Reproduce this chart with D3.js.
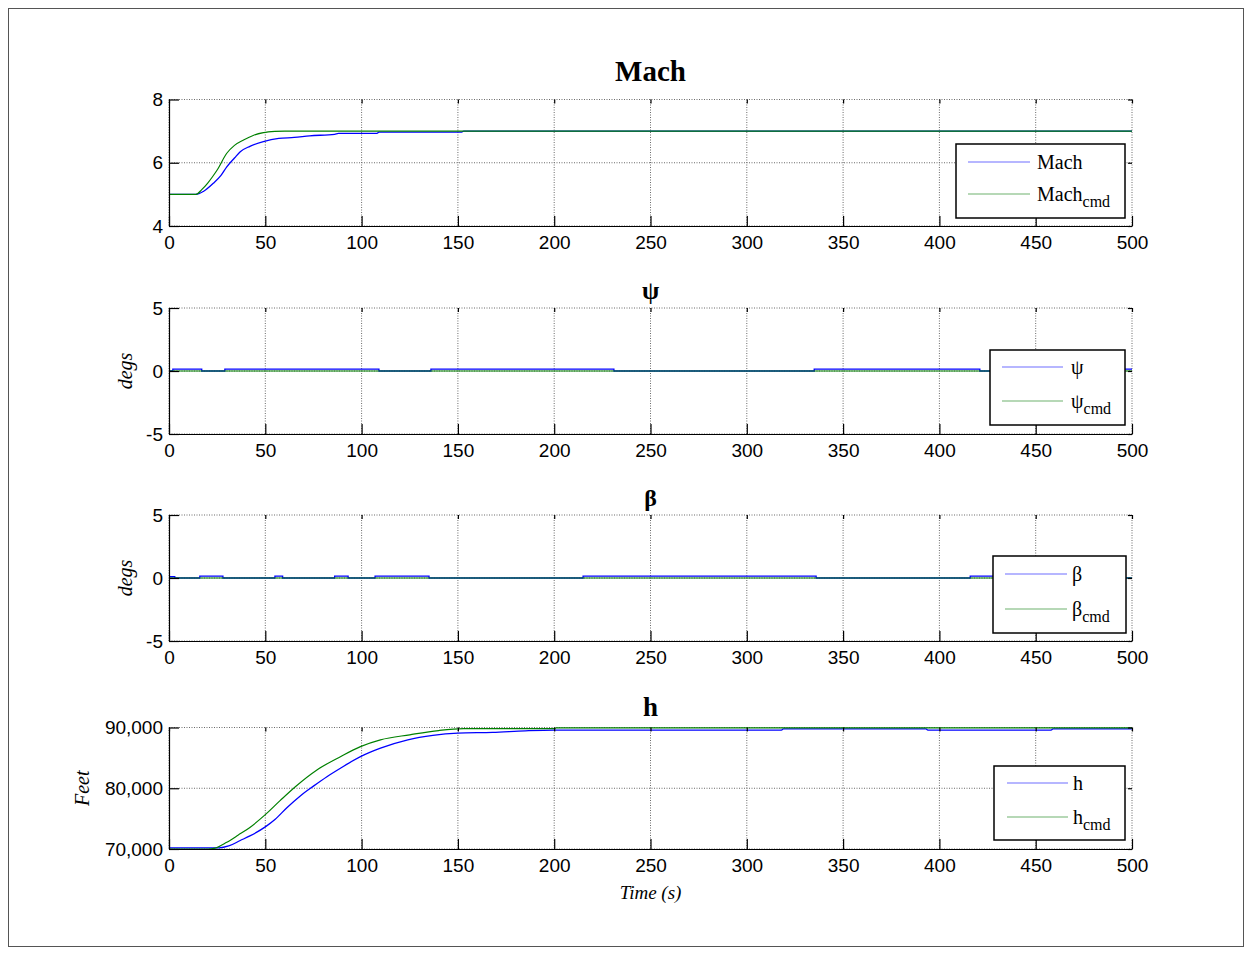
<!DOCTYPE html>
<html>
<head>
<meta charset="utf-8">
<script src="https://cdn.jsdelivr.net/npm/d3@7"></script>
<style>
  html, body { margin: 0; padding: 0; background: #fff; }
  svg { display: block; }
  .tick text { font-family: "Liberation Sans", Arial, sans-serif; font-size: 19px; fill: #000; }
</style>
</head>
<body>
<svg id="chart" width="1252" height="955"></svg>
<script>
// ---- data ---------------------------------------------------------------
const timeTicks = [0, 50, 100, 150, 200, 250, 300, 350, 400, 450, 500];

// Mach number: response and command  [time s, Mach]
const machResp = [[0,5],[14,5],[18,5.1],[23,5.35],[27,5.6],[30,5.87],[34,6.15],[37,6.35],[42,6.52],[49,6.67],[57,6.77],[65,6.8],[73,6.85],[86,6.9],[88,6.93],[108,6.93],[109,6.97],[152,6.97],[153,7.0],[500,7.0]];
const machCmd  = [[0,5],[14,5],[17,5.15],[20,5.35],[22.5,5.55],[25,5.77],[30,6.3],[34,6.55],[38.7,6.72],[44,6.87],[49,6.95],[55,6.99],[60,7.0],[500,7.0]];
const machTicks = [4, 6, 8];

// heading angle psi (deg), step-wise
const psiResp = [[0,0],[2,0.15],[17,0],[29,0.15],[109,0],[136,0.15],[231,0],[335,0.15],[421,0],[478,0.15],[500,0.15]];
const psiCmd  = [[0,0],[500,0]];
const degTicks = [-5, 0, 5];

// sideslip beta (deg), step-wise
const betaResp = [[0,0.1],[3,0],[16,0.15],[28,0],[55,0.15],[59,0],[86,0.15],[93,0],[107,0.15],[135,0],[215,0.15],[336,0],[416,0.15],[470,0],[500,0]];
const betaCmd  = [[0,0],[500,0]];

// altitude h (ft)
const hResp = [[0,70200],[26,70200],[31,70500],[37,71400],[42,72150],[50,73640],[55,74850],[61.2,76800],[68,78700],[75,80350],[82,81900],[89,83290],[99.4,85200],[109.8,86600],[124,87970],[137,88700],[150,89070],[168,89200],[185,89450],[200,89570],[318,89570],[319,89780],[393,89780],[394,89570],[458,89570],[459,89780],[500,89780]];
const hCmd  = [[0,70000],[20,70000],[24,70150],[30,71100],[36,72300],[42,73550],[50,75650],[57.8,78000],[65.6,80250],[76.8,83010],[89,85200],[99.4,86860],[109.8,87970],[125,88800],[140,89500],[153,89800],[200,89800],[201,89950],[500,89950]];
const hTicks = [70000, 80000, 90000];

// ---- layout -------------------------------------------------------------
const W = 1252, H = 955;
const X0 = 169, X1 = 1132;
const BLUE = "#0000ff", GREEN = "#008000";
const SERIF = "'Liberation Serif', 'Times New Roman', serif";

// integer labels with a plain hyphen for negatives
const intFmt = d => String(d);
const thouFmt = d => d3.format(",")(d).replace("\u2212", "-");

const svg = d3.select("#chart");

// figure frame
svg.append("rect")
  .attr("x", 8.5).attr("y", 8.5).attr("width", W - 17).attr("height", H - 17)
  .attr("fill", "#fff").attr("stroke", "#555").attr("stroke-width", 1);

const x = d3.scaleLinear().domain([0, 500]).range([X0, X1]);

const panels = [
  { id: "mach", top: 99.5, bottom: 226, domain: [4, 8], ticks: machTicks, fmt: intFmt,
    title: "Mach", titleSize: 29, titleY: 81, ylabel: null,
    resp: machResp, cmd: machCmd, curve: d3.curveMonotoneX,
    legend: { x: 956, y: 144, w: 169, h: 74, lx: 968, lw: 62, tx: 1037, y1: 162, y2: 194,
              name: "Mach" } },
  { id: "psi", top: 308, bottom: 434, domain: [-5, 5], ticks: degTicks, fmt: intFmt,
    title: "ψ", titleSize: 25, titleY: 299, ylabel: "degs", ylabelX: 132,
    resp: psiResp, cmd: psiCmd, curve: d3.curveStepAfter,
    legend: { x: 990, y: 350, w: 135, h: 75, lx: 1002, lw: 61, tx: 1071, y1: 367, y2: 401,
              name: "ψ" } },
  { id: "beta", top: 515, bottom: 641, domain: [-5, 5], ticks: degTicks, fmt: intFmt,
    title: "β", titleSize: 24, titleY: 506, ylabel: "degs", ylabelX: 132,
    resp: betaResp, cmd: betaCmd, curve: d3.curveStepAfter,
    legend: { x: 993, y: 556, w: 133, h: 77, lx: 1005, lw: 62, tx: 1072, y1: 574, y2: 609,
              name: "β" } },
  { id: "h", top: 727.5, bottom: 849, domain: [70000, 90000], ticks: hTicks, fmt: thouFmt,
    title: "h", titleSize: 27, titleY: 716, ylabel: "Feet", ylabelX: 89,
    resp: hResp, cmd: hCmd, curve: d3.curveMonotoneX,
    legend: { x: 994, y: 766, w: 131, h: 74, lx: 1007, lw: 61, tx: 1073, y1: 783, y2: 817,
              name: "h" } }
];

panels.forEach(p => {
  const y = d3.scaleLinear().domain(p.domain).range([p.bottom, p.top]);
  const g = svg.append("g").attr("class", "panel-" + p.id);

  // dotted grid
  const grid = g.append("g").attr("stroke", "#6a6a6a").attr("stroke-width", 1)
    .attr("stroke-dasharray", "1,1.5").attr("fill", "none");
  timeTicks.forEach(t => grid.append("line")
    .attr("x1", x(t)).attr("x2", x(t)).attr("y1", p.top).attr("y2", p.bottom));
  p.ticks.forEach(v => grid.append("line")
    .attr("x1", X0).attr("x2", X1).attr("y1", y(v)).attr("y2", y(v)));

  // data
  const clipId = "clip-" + p.id;
  svg.append("clipPath").attr("id", clipId).append("rect")
    .attr("x", X0).attr("y", p.top - 2).attr("width", X1 - X0 + 1).attr("height", p.bottom - p.top + 4);
  const line = d3.line().x(d => x(d[0])).y(d => y(d[1])).curve(p.curve);
  const data = g.append("g").attr("clip-path", `url(#${clipId})`).attr("fill", "none");
  data.append("path").attr("d", line(p.resp)).attr("stroke", BLUE).attr("stroke-width", 1.3);
  data.append("path").attr("d", line(p.cmd)).attr("stroke", GREEN).attr("stroke-width", 1.2);

  // axes: bottom / left with labels and inward ticks
  const ax = g.append("g").attr("transform", `translate(0,${p.bottom})`)
    .call(d3.axisBottom(x).tickValues(timeTicks).tickFormat(intFmt)
      .tickSizeInner(-10).tickSizeOuter(0).tickPadding(10));
  const ay = g.append("g").attr("transform", `translate(${X0},0)`)
    .call(d3.axisLeft(y).tickValues(p.ticks).tickFormat(p.fmt)
      .tickSizeInner(-10).tickSizeOuter(0).tickPadding(6));
  // top / right short tick marks
  const at = g.append("g").attr("transform", `translate(0,${p.top})`)
    .call(d3.axisTop(x).tickValues(timeTicks).tickFormat("").tickSizeInner(-4).tickSizeOuter(0));
  const ar = g.append("g").attr("transform", `translate(${X1},0)`)
    .call(d3.axisRight(y).tickValues(p.ticks).tickFormat("").tickSizeInner(-4).tickSizeOuter(0));
  at.select(".domain").remove();
  ar.select(".domain").remove();
  [ax, ay, at, ar].forEach(a => {
    a.attr("font-family", null).attr("font-size", null);
    a.selectAll(".tick line").attr("stroke", "#000").attr("stroke-width", 1.2);
    a.selectAll(".domain").attr("stroke", "#000").attr("stroke-width", 1.2);
  });

  // title
  g.append("text").attr("x", (X0 + X1) / 2).attr("y", p.titleY)
    .attr("text-anchor", "middle")
    .style("font-family", SERIF)
    .style("font-weight", "bold").style("font-size", p.titleSize + "px")
    .text(p.title);

  // y label
  if (p.ylabel) {
    g.append("text")
      .attr("transform", `translate(${p.ylabelX},${(p.top + p.bottom) / 2}) rotate(-90)`)
      .attr("text-anchor", "middle")
      .style("font-family", SERIF)
      .style("font-style", "italic").style("font-size", "20px")
      .text(p.ylabel);
  }

  // legend
  const L = p.legend;
  const lg = g.append("g");
  lg.append("rect").attr("x", L.x).attr("y", L.y).attr("width", L.w).attr("height", L.h)
    .attr("fill", "#fff").attr("stroke", "#000").attr("stroke-width", 1.5);
  lg.append("line").attr("x1", L.lx).attr("x2", L.lx + L.lw).attr("y1", L.y1).attr("y2", L.y1)
    .attr("stroke", "#6f6fff").attr("stroke-width", 1.2);
  lg.append("line").attr("x1", L.lx).attr("x2", L.lx + L.lw).attr("y1", L.y2).attr("y2", L.y2)
    .attr("stroke", "#6fb26f").attr("stroke-width", 1.2);
  lg.append("text").attr("x", L.tx).attr("y", L.y1 + 7)
    .style("font-family", SERIF).style("font-size", "20px").text(L.name);
  const t2 = lg.append("text").attr("x", L.tx).attr("y", L.y2 + 7)
    .style("font-family", SERIF).style("font-size", "20px");
  t2.append("tspan").text(L.name);
  t2.append("tspan").attr("dy", 6).style("font-size", "16px").text("cmd");
});

// shared time axis label
svg.append("text").attr("x", (X0 + X1) / 2).attr("y", 899)
  .attr("text-anchor", "middle")
  .style("font-family", SERIF)
  .style("font-style", "italic").style("font-size", "19px")
  .text("Time (s)");
</script>
</body>
</html>
